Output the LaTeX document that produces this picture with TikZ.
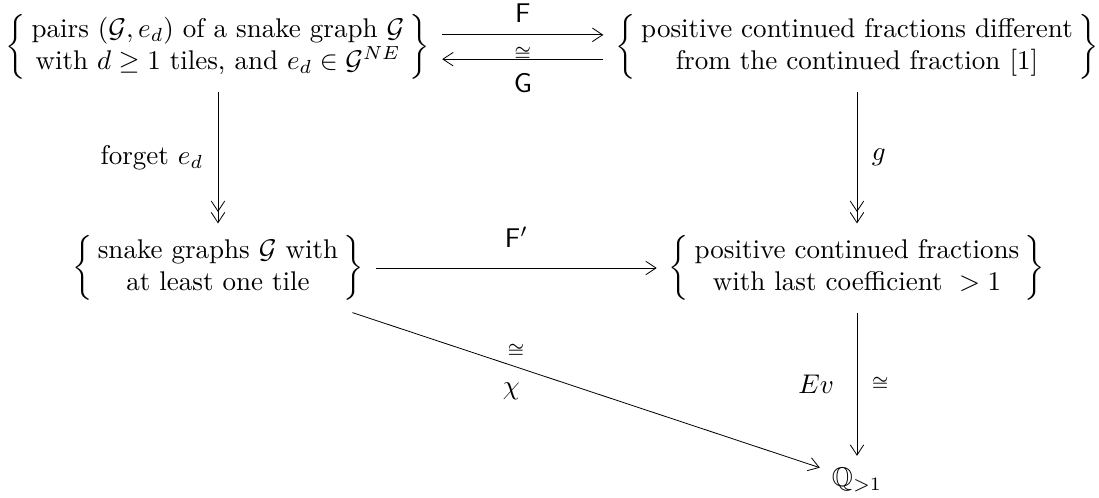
\documentclass[tikz,border=0pt]{standalone}
\usepackage{amsmath,amssymb}
\usetikzlibrary{arrows.meta}
\setlength{\arraycolsep}{2pt}

\begin{document}
\begin{tikzpicture}[x=0.0130cm,y=-0.0130cm,line width=0.3pt,
  set/.style={inner sep=0pt,outer sep=4.5pt},
  map/.style={-{Straight Barb[length=3.8pt,width=5pt]}},
  onto/.style={-{Straight Barb[length=3.8pt,width=5pt]Straight Barb[length=3.8pt,width=5pt]}},
  iso/.style={font=\scriptsize}]

\useasboundingbox (0,0) rectangle (1099,497);

% Sets
\node[set] (pairs) at (218,47) {$\left\{\begin{array}{c}\text{pairs } (\mathcal{G},e_d) \text{ of a snake graph } \mathcal{G}\\ \text{with } d\geq 1 \text{ tiles, and } e_d\in\mathcal{G}^{NE}\end{array}\right\}$};
\node[set] (cfrac) at (857,47) {$\left\{\begin{array}{c}\text{positive continued fractions different}\\ \text{from the continued fraction } [1]\end{array}\right\}$};
\node[set] (snake) at (218,268) {$\left\{\begin{array}{c}\text{snake graphs } \mathcal{G} \text{ with}\\ \text{at least one tile}\end{array}\right\}$};
\node[set] (cfraclast) at (857,268) {$\left\{\begin{array}{c}\text{positive continued fractions}\\ \text{with last coefficient } >1\end{array}\right\}$};
\node[set] (rat) at (857,480) {$\mathbb{Q}_{>1}$};

% Top maps
\draw[map] ([yshift=4.5pt]pairs.east) -- ([yshift=4.5pt]cfrac.west)
  node[midway,above=1pt] {$\mathsf{F}$}
  node[midway,below=1pt,iso] {$\cong$};
\draw[map] ([yshift=-4.5pt]cfrac.west) -- ([yshift=-4.5pt]pairs.east)
  node[midway,below=2pt] {$\mathsf{G}$};

% Vertical maps
\draw[onto] (pairs) -- (snake) node[midway,left=2pt] {forget $e_d$};
\draw[onto] (cfrac) -- (cfraclast) node[midway,right=2pt] {$g$};
\draw[map] (cfraclast) -- (rat)
  node[midway,left=5pt] {$Ev$}
  node[midway,right=2pt,iso] {$\cong$};

% Bottom maps
\draw[map] (snake) -- (cfraclast) node[midway,above=4pt] {$\mathsf{F}'$};
\draw[map] (snake) -- (rat)
  node[pos=0.35,above=0pt,iso] {$\cong$}
  node[pos=0.34,below=3pt] {$\chi$};

\end{tikzpicture}
\end{document}
